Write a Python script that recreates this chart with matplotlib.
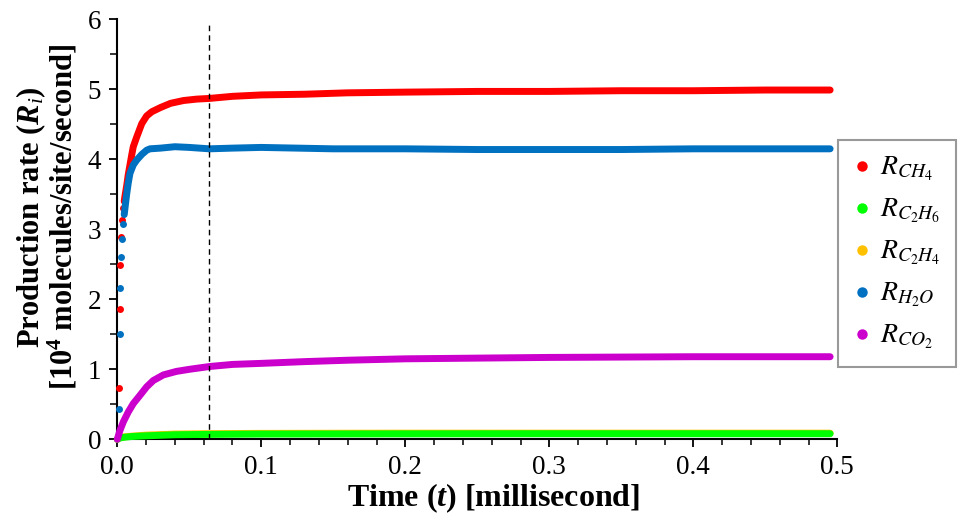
import matplotlib
matplotlib.use('Agg')
import matplotlib.pyplot as plt
from matplotlib.lines import Line2D
from matplotlib.ticker import MultipleLocator

# fonts: Times-like serif for labels, custom mathtext so bold/italic pieces match
plt.rcParams['font.family'] = ['Liberation Serif', 'DejaVu Serif']
plt.rcParams['mathtext.fontset'] = 'custom'
plt.rcParams['mathtext.rm'] = 'Liberation Serif'
plt.rcParams['mathtext.it'] = 'Liberation Serif:italic'
plt.rcParams['mathtext.bf'] = 'Liberation Serif:bold'
plt.rcParams['mathtext.bfit'] = 'Liberation Serif:bold:italic'

# ---- data (time in ms, rates in 10^4 molecules/site/s) ----
# first few sampled points, shown as separate dots
t_early = [0.0012, 0.0017, 0.0022, 0.0028, 0.0035, 0.0042]
ch4_early = [0.74, 1.86, 2.49, 2.89, 3.13, 3.30]
h2o_early = [0.43, 1.50, 2.16, 2.60, 2.86, 3.08]

# continuous part
t_ch4 = [0.0048, 0.0053, 0.0065, 0.0076, 0.0088, 0.0100, 0.0111, 0.0135, 0.0170,
         0.0204, 0.0240, 0.030, 0.037, 0.046, 0.055, 0.064, 0.080, 0.100, 0.130,
         0.160, 0.200, 0.250, 0.300, 0.350, 0.400, 0.450, 0.495]
ch4 = [3.40, 3.47, 3.62, 3.78, 3.92, 4.06, 4.18, 4.32, 4.51,
       4.62, 4.68, 4.74, 4.80, 4.84, 4.86, 4.87, 4.90, 4.92, 4.93,
       4.95, 4.96, 4.97, 4.97, 4.98, 4.98, 4.99, 4.99]

t_h2o = [0.0048, 0.0055, 0.0065, 0.0076, 0.0088, 0.0111, 0.0135, 0.0170, 0.0204,
         0.0227, 0.030, 0.040, 0.050, 0.064, 0.080, 0.100, 0.150, 0.200, 0.250,
         0.300, 0.350, 0.400, 0.450, 0.495]
h2o = [3.21, 3.33, 3.50, 3.66, 3.80, 3.92, 3.99, 4.07, 4.13,
       4.15, 4.16, 4.18, 4.17, 4.15, 4.16, 4.17, 4.15, 4.15, 4.14,
       4.14, 4.14, 4.15, 4.15, 4.15]

t_co2 = [0.0, 0.0019, 0.0042, 0.0076, 0.0111, 0.0158, 0.0204, 0.025, 0.032, 0.041,
         0.050, 0.064, 0.080, 0.100, 0.130, 0.160, 0.200, 0.250, 0.300, 0.350,
         0.400, 0.450, 0.495]
co2 = [0.0, 0.13, 0.25, 0.39, 0.51, 0.63, 0.75, 0.84, 0.92, 0.97,
       1.00, 1.04, 1.07, 1.085, 1.11, 1.13, 1.15, 1.16, 1.17, 1.175,
       1.18, 1.18, 1.18]

t_c2 = [0.0, 0.002, 0.005, 0.010, 0.020, 0.040, 0.060, 0.100, 0.200, 0.300, 0.400, 0.495]
c2h6 = [0.0, 0.02, 0.03, 0.04, 0.05, 0.065, 0.07, 0.075, 0.078, 0.08, 0.08, 0.08]
c2h4 = [0.0, 0.025, 0.035, 0.045, 0.06, 0.075, 0.08, 0.085, 0.088, 0.088, 0.088, 0.088]

t_marker = 0.064  # dashed reference line

labels = [r'$R_{CH_4}$', r'$R_{C_2H_6}$', r'$R_{C_2H_4}$', r'$R_{H_2O}$', r'$R_{CO_2}$']
colors = ['#FF0000', '#00FF00', '#FFC000', '#0070C0', '#CC00CC']

fig = plt.figure(figsize=(9.63, 5.14), dpi=100)
ax = fig.add_axes([0.1218, 0.1453, 0.7477, 0.8171])

lw = 5.0
ms = 5.0
kw = dict(lw=lw, solid_capstyle='round', solid_joinstyle='round', clip_on=False)

ax.plot(t_c2, c2h4, color=colors[2], zorder=2, **kw)
ax.plot(t_c2, c2h6, color=colors[1], zorder=3, **kw)
ax.plot(t_co2, co2, color=colors[4], zorder=3, **kw)
ax.plot(t_ch4, ch4, color=colors[0], zorder=3, **kw)
ax.plot(t_early, ch4_early, 'o', color=colors[0], ms=ms, mew=0, zorder=3, clip_on=False)
ax.plot(t_h2o, h2o, color=colors[3], zorder=4, **kw)
ax.plot(t_early, h2o_early, 'o', color=colors[3], ms=ms, mew=0, zorder=4, clip_on=False)

ax.plot([t_marker, t_marker], [0, 5.97], color='black', lw=1.0, dashes=(4, 3), zorder=5)

ax.set_xlim(0, 0.5)
ax.set_ylim(0, 6)
ax.xaxis.set_major_locator(MultipleLocator(0.1))
ax.xaxis.set_minor_locator(MultipleLocator(0.02))
ax.yaxis.set_major_locator(MultipleLocator(1))
ax.yaxis.set_minor_locator(MultipleLocator(0.5))
ax.xaxis.set_major_formatter(matplotlib.ticker.FormatStrFormatter('%.1f'))
ax.tick_params(which='major', direction='out', length=5.5, width=1.3, labelsize=19.5, pad=6)
ax.tick_params(which='minor', direction='out', length=4, width=1.1)
ax.tick_params(axis='y', which='minor', length=5)

for s in ['top', 'right']:
    ax.spines[s].set_visible(False)
for s in ['left', 'bottom']:
    ax.spines[s].set_linewidth(1.5)

ax.set_xlabel(r'Time ($\mathbfit{t}$) [millisecond]', fontsize=23, fontweight='bold')
ax.xaxis.set_label_coords(0.522, -0.10)
ax.set_ylabel('Production rate ($\\mathbfit{R}_{\\mathit{i}}$)\n[10$^{\\mathbf{4}}$ molecules/site/second]',
              fontsize=22, fontweight='bold', linespacing=0.95)
ax.yaxis.set_label_coords(-0.052, 0.53)

handles = [Line2D([], [], ls='none', marker='o', color=c, ms=7.5, mew=0) for c in colors]
leg = fig.legend(handles, labels, loc='upper left', bbox_to_anchor=(838.3 / 963, 1 - 140 / 514),
                 bbox_transform=fig.transFigure, borderaxespad=0, frameon=True, fancybox=False,
                 edgecolor='#808080', fontsize=20, handlelength=0.6, handletextpad=0.35,
                 labelspacing=0.5, borderpad=0.55)
leg.get_frame().set_linewidth(1.5)
for txt in leg.get_texts():
    txt.set_math_fontfamily('stix')

fig.savefig('out.png', dpi=100)
